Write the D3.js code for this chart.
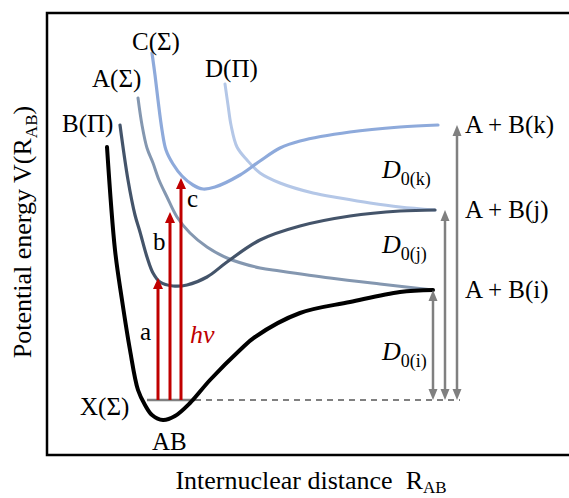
<!DOCTYPE html>
<html>
<head>
<meta charset="utf-8">
<script src="https://cdn.jsdelivr.net/npm/d3@7"></script>
<style>
  body { margin: 0; background: #fff; }
  svg { display: block; }
  svg text { font-family: "Liberation Serif", "Times New Roman", serif; }
</style>
</head>
<body>
<div id="chart"></div>
<script>
// potential curves as [R, V] pairs, arbitrary units (V = 0 at the X ground level)
const curveX = [[12, 50.6], [13.6, 30], [15, 20], [16.6, 10], [18.2, 2], [19.6, -1], [21, -3],
  [23.2, -4], [25.6, -3.2], [28.6, -0.6], [32.6, 4], [38.6, 10], [41.6, 12.6], [50.6, 17.4],
  [60.6, 19.6], [70.6, 21.6], [77.2, 22]];
const curveB = [[14.6, 55], [16.2, 44], [17.6, 37], [18.6, 33.6], [20, 28.6], [21.2, 25.4],
  [22.6, 23.6], [25.2, 22.8], [28, 23], [32, 24.6], [36, 27.6], [42.6, 32], [50.6, 34.8],
  [60.6, 36.8], [70.6, 37.8], [77.6, 38]];
const curveA = [[18.2, 60.4], [19, 55], [20, 50.4], [21.2, 47.4], [22.4, 44], [24, 40.6],
  [26, 36.6], [28.6, 33.4], [32, 30.6], [36, 28.4], [42.6, 26.4], [46.6, 25.8], [56.6, 24.4],
  [66.6, 23.2], [77.2, 22]];
const curveC = [[21, 69.4], [21.6, 65], [22.2, 60], [23, 54], [23.8, 50], [25.2, 47.2],
  [27, 44.8], [29.2, 43], [31.2, 42.2], [33.6, 42.6], [38.6, 45], [42.6, 47.8], [46.6, 50.4],
  [50.6, 51.8], [60.6, 53.6], [70.6, 54.6], [78.2, 55]];
const curveD = [[35.6, 63.2], [36.2, 59], [36.8, 55], [38, 50.6], [40, 48], [42.6, 45.4],
  [46.6, 43.4], [53.2, 41.4], [58.6, 40.4], [64.6, 39.4], [70.6, 38.6], [77.6, 38]];

// photon transitions a, b, c from the ground level
const transitionR = [22.2, 24.6, 26.8];
const transitionTop = [24.4, 37.6, 44.4];
const transitionNames = ["a", "b", "c"];

// dissociation limits i, j, k
const limitV = [22, 38, 55];
const limitR = [77.2, 79.6, 82];
const limitNames = ["A + B(i)", "A + B(j)", "A + B(k)"];
const d0Subs = ["0(i)", "0(j)", "0(k)"];

const width = 569, height = 498;
const x = d3.scaleLinear().domain([0, 104.4]).range([47, 569]);
const y = d3.scaleLinear().domain([-11, 77.4]).range([455, 13]);

const svg = d3.select("#chart").append("svg")
  .attr("width", width).attr("height", height)
  .attr("font-family", "'Liberation Serif', 'Times New Roman', serif");

// frame (left, top, bottom)
svg.append("path")
  .attr("d", `M${x(104.4)},${y(77.4)}H${x(0)}V${y(-11)}H${x(104.4)}`)
  .attr("fill", "none").attr("stroke", "#000").attr("stroke-width", 2.5);

// ground level
svg.append("line")
  .attr("x1", x(20)).attr("x2", x(29.6)).attr("y1", y(0)).attr("y2", y(0))
  .attr("stroke", "#808080").attr("stroke-width", 2.5);
svg.append("line")
  .attr("x1", x(29.6)).attr("x2", x(82.6)).attr("y1", y(0)).attr("y2", y(0))
  .attr("stroke", "#808080").attr("stroke-width", 2).attr("stroke-dasharray", "6,5");

const line = d3.line()
  .x((d) => x(d[0])).y((d) => y(d[1]))
  .curve(d3.curveCatmullRom.alpha(0.5));

const curves = [
  { pts: curveD, color: "#b4c7e7", w: 3 },
  { pts: curveC, color: "#8eaadb", w: 3.2 },
  { pts: curveA, color: "#8497b0", w: 3 },
  { pts: curveB, color: "#44546a", w: 3.2 },
  { pts: curveX, color: "#000000", w: 4 },
];
svg.selectAll("path.pec")
  .data(curves)
  .join("path")
  .attr("class", "pec")
  .attr("d", (d) => line(d.pts))
  .attr("fill", "none")
  .attr("stroke", (d) => d.color)
  .attr("stroke-width", (d) => d.w)
  .attr("stroke-linecap", "round");

// arrow helper: head drawn as a triangle
function head(px, py, dir, w, h) {
  // dir -1 = pointing up, 1 = pointing down
  return `M${px},${py}L${px - w / 2},${py - dir * h}L${px + w / 2},${py - dir * h}Z`;
}

// red photon arrows
const red = "#c00000";
transitionR.forEach((r, i) => {
  svg.append("line")
    .attr("x1", x(r)).attr("x2", x(r))
    .attr("y1", y(0)).attr("y2", y(transitionTop[i]) + 9)
    .attr("stroke", red).attr("stroke-width", 3);
  svg.append("path")
    .attr("d", head(x(r), y(transitionTop[i]), -1, 10, 11))
    .attr("fill", red);
});

// gray dissociation arrows (double headed)
const gray = "#808080";
limitR.forEach((r, i) => {
  svg.append("line")
    .attr("x1", x(r)).attr("x2", x(r))
    .attr("y1", y(0) - 8).attr("y2", y(limitV[i]) + 8)
    .attr("stroke", gray).attr("stroke-width", 2.5);
  svg.append("path").attr("d", head(x(r), y(limitV[i]), -1, 9, 11)).attr("fill", gray);
  svg.append("path").attr("d", head(x(r), y(0), 1, 9, 11)).attr("fill", gray);
});

// state labels
const stateLabels = [
  { t: "B(Π)", x: 62, y: 132 },
  { t: "A(Σ)", x: 92, y: 87 },
  { t: "C(Σ)", x: 132, y: 50 },
  { t: "D(Π)", x: 205, y: 77 },
  { t: "X(Σ)", x: 80, y: 415 },
  { t: "AB", x: 152, y: 450 },
];
svg.selectAll("text.state")
  .data(stateLabels)
  .join("text")
  .attr("class", "state")
  .attr("x", (d) => d.x).attr("y", (d) => d.y)
  .attr("font-size", 25)
  .text((d) => d.t);

// transition labels
const tPos = [[140, 340], [153, 250], [187, 207]];
transitionNames.forEach((n, i) => {
  svg.append("text")
    .attr("x", tPos[i][0]).attr("y", tPos[i][1])
    .attr("font-size", 25)
    .text(n);
});
svg.append("text")
  .attr("x", 190).attr("y", 343)
  .attr("font-size", 26).attr("font-style", "italic")
  .attr("fill", red)
  .text("hν");

// limit labels
limitNames.forEach((n, i) => {
  svg.append("text")
    .attr("x", 465).attr("y", y(limitV[i]) + 8)
    .attr("font-size", 25)
    .text(n);
});

// D0 labels
const d0Base = [360, 253, 178];
d0Subs.forEach((s, i) => {
  const t = svg.append("text")
    .attr("x", 382).attr("y", d0Base[i])
    .attr("font-size", 26);
  t.append("tspan").attr("font-style", "italic").text("D");
  t.append("tspan").attr("font-size", 18).attr("dy", 7).text(s);
});

// axis titles
const xt = svg.append("text")
  .attr("x", 311).attr("y", 489)
  .attr("text-anchor", "middle")
  .attr("font-size", 26);
xt.append("tspan").text("Internuclear distance\u00a0\u00a0R");
xt.append("tspan").attr("font-size", 17).attr("dy", 4).text("AB");

const yt = svg.append("text")
  .attr("transform", "translate(31,232) rotate(-90)")
  .attr("text-anchor", "middle")
  .attr("font-size", 26);
yt.append("tspan").text("Potential energy V(R");
yt.append("tspan").attr("font-size", 17).attr("dy", 6).text("AB");
yt.append("tspan").attr("dy", -6).text(")");
</script>
</body>
</html>
